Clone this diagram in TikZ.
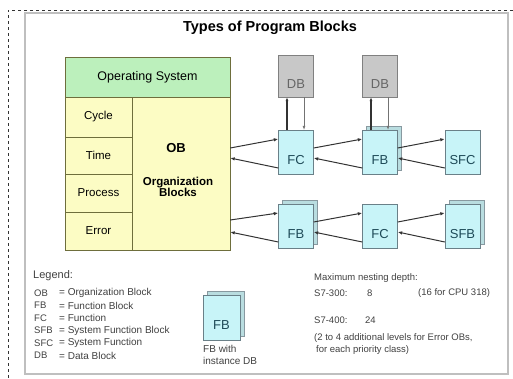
\documentclass[tikz,border=0pt]{standalone}
\usepackage{fontspec}
\setmainfont{Liberation Sans}
\usetikzlibrary{arrows.meta,shadows}

\definecolor{osgreen}{HTML}{BCF0BC}
\definecolor{obyellow}{HTML}{FCFCC4}
\definecolor{obline}{HTML}{6E6E3C}
\definecolor{blkcyan}{HTML}{C8F4F8}
\definecolor{blkline}{HTML}{6A8088}
\definecolor{blktext}{HTML}{1E4A58}
\definecolor{dbgray}{HTML}{C8C8C8}
\def\fs#1{\fontsize{#1}{1.15em}\selectfont}

\tikzset{
	osbox/.style={draw=obline, fill=osgreen, minimum width=165pt, minimum height=40pt, font=\fs{12.5}},
	evtbox/.style={draw=obline, fill=obyellow, minimum width=67pt, inner sep=0pt, font=\fs{11.5}},
	obbox/.style={draw=obline, fill=obyellow, minimum width=98pt, minimum height=153pt},
	blkbox/.style={draw=blkline, fill=blkcyan, minimum width=35pt, minimum height=44pt, inner sep=0pt,
		text height=24pt, text depth=0pt, text=blktext, font=\fs{13}},
	stackbox/.style={blkbox, copy shadow={shadow xshift=4pt, shadow yshift=4pt, draw=blkline!80, fill=blkcyan!80!gray}},
	dbbox/.style={draw=black!50, fill=dbgray, minimum width=35pt, minimum height=42pt, inner sep=0pt,
		text height=24pt, text depth=0pt, text=black!60, font=\fs{13}},
	call/.style={-{Latex[length=4.5pt,width=3.5pt]}, line width=1pt, black!80},
	dbwrite/.style={-{Latex[length=4pt,width=3pt]}, line width=1.8pt, black!80},
	dbread/.style={-{Latex[length=4pt,width=3pt]}, line width=0.6pt, black!55},
	txt/.style={anchor=west, inner sep=0pt, text=black!75, font=\fs{9.5}},
}

\begin{document}
\begin{tikzpicture}[x=1pt, y=-1pt]
	%%%%% FRAME %%%%%
	\useasboundingbox (0,0) rectangle (513,378);
	\draw[black!80, dashed] (513,10) -- (8,10) -- (8,378);
	\draw[black!25, line width=2pt] (25,13) rectangle (508,374);
	\node (title) at (270,28) {\fs{14.5}\bfseries Types of Program Blocks};
	
	%%%%% OPERATING SYSTEM AND OB %%%%%
	\node[osbox] (os) at (147.5,77) {Operating System};
	\node[obbox] (ob) at (181,173.5) {};
	\node[evtbox, minimum height=40pt] (cycle) at (98.5,117) {Cycle};
	\node[evtbox, minimum height=37pt] (time) at (98.5,155.5) {Time};
	\node[evtbox, minimum height=38pt] (process) at (98.5,193) {Process};
	\node[evtbox, minimum height=38pt] (error) at (98.5,231) {Error};
	\node (obname) at (176,148) {\fs{13}\bfseries OB};
	\node[align=center, font=\fs{11.5}\bfseries] (obtext) at (178,187) {Organization\\Blocks};
	
	%%%%% BLOCKS %%%%%
	\node[dbbox] (db1) at (296,76) {DB};
	\node[dbbox] (db2) at (380,76) {DB};
	
	\node[blkbox] (fc1) at (296,152) {FC};
	\node[stackbox] (fb1) at (380,152) {FB};
	\node[blkbox] (sfc) at (462.5,152) {SFC};
	
	\node[stackbox] (fb2) at (296,226) {FB};
	\node[blkbox] (fc2) at (380,226) {FC};
	\node[stackbox] (sfb) at (462.5,226) {SFB};
	
	%%%%% CALLS %%%%%
	\draw[call] ([yshift=25.5pt]ob.east) -- ([yshift=13pt]fc1.west);
	\draw[call] ([yshift=-16pt]fc1.west) -- ([yshift=15.5pt]ob.east);
	\draw[call] ([yshift=4pt]fc1.east) -- ([yshift=13pt]fb1.west);
	\draw[call] ([yshift=-16pt]fb1.west) -- ([yshift=-6pt]fc1.east);
	\draw[call] ([yshift=4pt]fb1.east) -- ([yshift=13pt]sfc.west);
	\draw[call] ([yshift=-16pt]sfc.west) -- ([yshift=-6pt]fb1.east);
	
	\draw[call] ([yshift=-46.5pt]ob.east) -- ([yshift=13pt]fb2.west);
	\draw[call] ([yshift=-16pt]fb2.west) -- ([yshift=-58.5pt]ob.east);
	\draw[call] ([yshift=4pt]fb2.east) -- ([yshift=13pt]fc2.west);
	\draw[call] ([yshift=-16pt]fc2.west) -- ([yshift=-6pt]fb2.east);
	\draw[call] ([yshift=4pt]fc2.east) -- ([yshift=13pt]sfb.west);
	\draw[call] ([yshift=-16pt]sfb.west) -- ([yshift=-6pt]fc2.east);
	
	\draw[dbwrite] ([xshift=-9pt]fc1.north) -- ([xshift=-9pt]db1.south);
	\draw[dbread] ([xshift=8pt]db1.south) -- ([xshift=8pt]fc1.north);
	\draw[dbwrite] ([xshift=-9pt]fb1.north) -- ([xshift=-9pt]db2.south);
	\draw[dbread] ([xshift=8pt]db2.south) -- ([xshift=8pt]fb1.north);
	
	%%%%% LEGEND %%%%%
	\node[txt, font=\fs{11}] (legend) at (33,276) {Legend:};
	\foreach \y/\abbr/\desc in {293/OB/Organization Block, 305.5/FB/Function Block, 318/FC/Function,
		330.5/SFB/System Function Block, 343/SFC/System Function, 355.5/DB/Data Block} {
		\node[txt] (abbr-\abbr) at (34,\y) {\abbr};
		\node[txt, font=\fs{10}] (desc-\abbr) at (59,\y) {= \desc};
	}
	
	\node[stackbox, minimum width=37pt, minimum height=45pt] (fbicon) at (221.5,317.5) {FB};
	\node[txt, font=\fs{10}] (fbcap1) at (203,349) {FB with};
	\node[txt, font=\fs{10}] (fbcap2) at (203,361) {instance DB};
	
	%%%%% NESTING DEPTH %%%%%
	\node[txt] (depth) at (314,278) {Maximum nesting depth:};
	\node[txt] (s3) at (314,293) {S7-300:};
	\node[txt] (s3n) at (367,293) {8};
	\node[txt] (s3c) at (418,293) {(16 for CPU 318)};
	\node[txt] (s4) at (314,320) {S7-400:};
	\node[txt] (s4n) at (365,320) {24};
	\node[txt] (note1) at (314,338) {(2 to 4 additional levels for Error OBs,};
	\node[txt] (note2) at (316,350) {for each priority class)};
\end{tikzpicture}
\end{document}
